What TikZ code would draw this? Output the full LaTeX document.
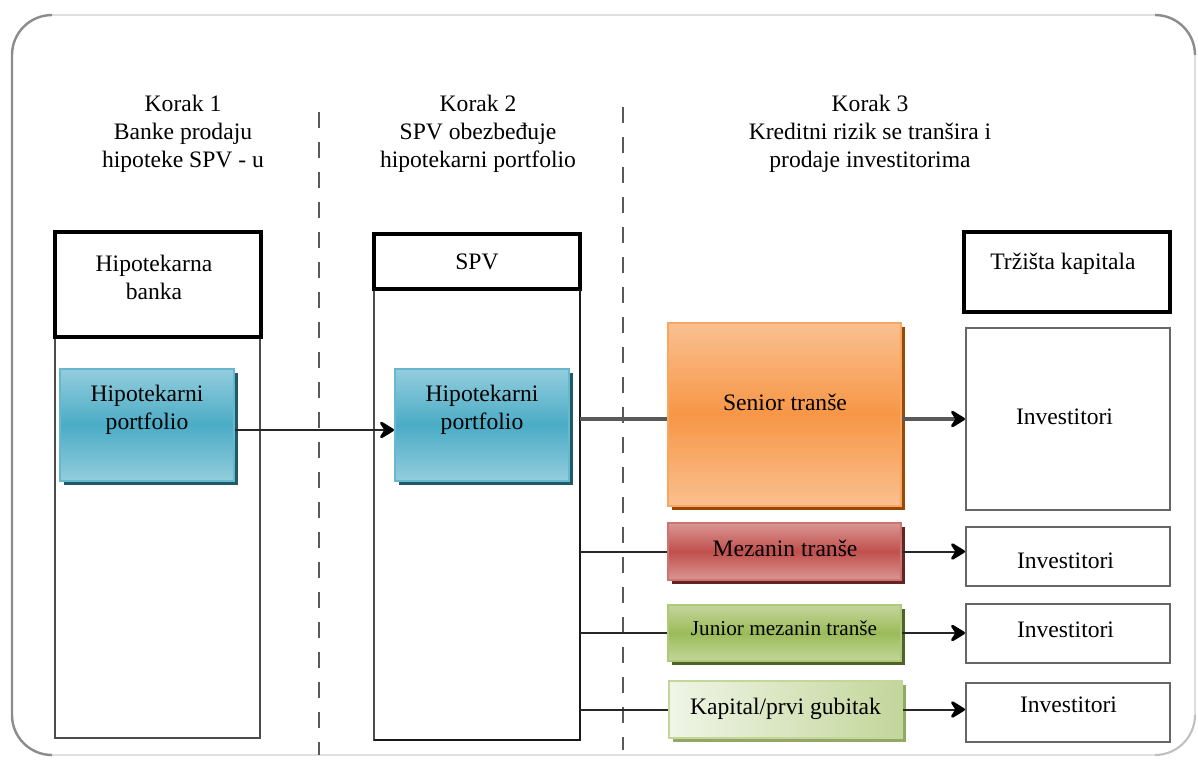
\documentclass[tikz,border=0pt]{standalone}
\usepackage{fontspec}
\setmainfont{Liberation Serif}
\usetikzlibrary{arrows.meta,shadows}

\definecolor{cyanlt}{HTML}{93CDDD}
\definecolor{cyanmd}{HTML}{4BACC6}
\definecolor{cyandk}{HTML}{215968}
\definecolor{orglt}{HTML}{FAC090}
\definecolor{orgmd}{HTML}{F79646}
\definecolor{orgdk}{HTML}{984807}
\definecolor{redlt}{HTML}{DA9694}
\definecolor{redmd}{HTML}{C0504D}
\definecolor{reddk}{HTML}{632523}
\definecolor{grnlt}{HTML}{C3D69B}
\definecolor{grnmd}{HTML}{9BBB59}
\definecolor{grndk}{HTML}{4F6228}
\definecolor{grnpale}{HTML}{F0F5E6}
\definecolor{grnshd}{HTML}{77933C}
\definecolor{framegray}{HTML}{8C8C8C}

\begin{document}
\begin{tikzpicture}[x=0.5pt,y=-0.5pt, % pixel grid of the original
    txt/.style={font=\fontsize{11.8}{14}\selectfont, align=center, inner sep=0pt},
    small/.style={font=\fontsize{10.6}{13}\selectfont},
    header/.style={draw=black, line width=2pt, fill=white, minimum width=103pt, inner sep=0pt, font=\fontsize{11.8}{14}\selectfont},
    column/.style={draw=black!70, line width=0.7pt},
    dropshade/.style={drop shadow={shadow xshift=2pt, shadow yshift=-2pt, fill=#1, opacity=1}},
    portbox/.style={draw=cyanmd!85!white, line width=1pt, top color=cyanlt, bottom color=cyanlt, middle color=cyanmd,
        minimum width=87pt, minimum height=56pt, dropshade=cyandk},
    tranche/.style={line width=1pt, minimum width=116.5pt, minimum height=28.5pt},
    senior/.style={draw=orgmd!85!white, top color=orglt, bottom color=orglt, middle color=orgmd, dropshade=orgdk},
    mezz/.style={draw=redmd!80!white, top color=redlt, bottom color=redlt, middle color=redmd, dropshade=reddk},
    junior/.style={draw=grnmd!80!white, top color=grnlt, bottom color=grnlt, middle color=grnmd, dropshade=grndk},
    equity/.style={draw=grnlt, left color=grnpale, right color=grnlt, dropshade=grnshd!80},
    invbox/.style={draw=black!60, line width=1pt, minimum width=102pt, minimum height=29.5pt},
    divider/.style={draw=black!65, line width=1pt, dash pattern=on 8pt off 7pt},
    busline/.style={draw=black!90, line width=1.1pt},
    link/.style={draw=black!85, line width=1pt},
    heavy/.style={draw=black!65, line width=1.6pt},
    tipped/.style={-{Stealth[length=9pt,width=11pt,inset=3.5pt,line width=1.5pt,round,color=black]}},
    arr/.style={link, tipped}
]
\useasboundingbox (0,0) rectangle (1198,761);

% Frame
\draw[draw=black!12, line width=0.8pt, rounded corners=20pt] (12,15) rectangle (1195,755);
\draw[draw=framegray, line width=1.2pt, rounded corners=20pt] (52,15) -- (12,15) -- (12,755) -- (52,755);
\draw[draw=framegray, line width=1.2pt, rounded corners=20pt] (1155,15) -- (1195,15) -- (1195,55);
\draw[draw=black!25, line width=1pt, rounded corners=20pt] (1195,715) -- (1195,755) -- (1155,755);

% Step dividers
\draw[divider] (319,112) -- (319,755);
\draw[divider] (623,107) -- (623,750);

% Step titles
\node[txt] (step1) at (183,134) {Korak 1\\Banke prodaju\\hipoteke SPV - u};
\node[txt] (step2) at (478,134) {Korak 2\\SPV obezbeđuje\\hipotekarni portfolio};
\node[txt] (step3) at (870,134) {Korak 3\\Kreditni rizik se tranšira i\\prodaje investitorima};

% Korak 1: bank
\draw[column] (55,300) rectangle (260,738);
\node[header, minimum height=52.5pt] (bank) at (157.5,284.5) {};
\node[txt] (bank-t) at (154,277) {Hipotekarna\\banka};
\node[portbox] (port1) at (147,425) {};
\node[txt] (port1-t) at (147,410) {Hipotekarni\\portfolio};

% Korak 2: SPV
\draw[column] (374,270) rectangle (580,740);
\node[header, minimum height=27.5pt] (spv) at (477,261.5) {SPV};
\node[portbox] (port2) at (482,425) {};
\node[txt] (port2-t) at (482,410) {Hipotekarni\\portfolio};
\coordinate (bus) at (580,289);
\coordinate (busend) at (374,740);
\draw[busline] (bus) |- (busend);

% Korak 3: tranches
\node[tranche, senior, minimum height=91.5pt] (senior) at (784.5,414.5) {};
\node[txt] (senior-t) at (785,402.5) {Senior tranše};
\node[tranche, mezz] (mezz) at (784.5,551.5) {};
\node[txt] (mezz-t) at (785,548) {Mezanin tranše};
\node[tranche, junior, minimum height=28pt] (junior) at (784.5,633) {};
\node[txt, small] (junior-t) at (784,628.5) {Junior mezanin tranše};
\node[tranche, equity] (equity) at (785.5,709.5) {};
\node[txt] (equity-t) at (785.5,708.5) {Kapital/prvi gubitak};

% Capital markets
\node[header, minimum height=40pt] (market) at (1067,272) {};
\node[txt] (market-t) at (1063,264) {Tržišta kapitala};
\node[invbox, minimum height=91pt] (inv1) at (1068,419) {};
\node[txt] (inv1-t) at (1064.5,417) {Investitori};
\node[invbox] (inv2) at (1068,556.5) {};
\node[txt] (inv2-t) at (1065.5,560.5) {Investitori};
\node[invbox] (inv3) at (1068,633.5) {};
\node[txt] (inv3-t) at (1065.5,629.5) {Investitori};
\node[invbox] (inv4) at (1068,712.5) {};
\node[txt] (inv4-t) at (1068.5,704.5) {Investitori};

% Connectors
\draw[arr, line width=0.6pt] ([yshift=-2.5pt]port1.east) -- ([yshift=-2.5pt]port2.west);
\draw[heavy] (bus |- inv1.west) -- (senior.west |- inv1.west);
\draw[heavy, tipped] (senior.east |- inv1.west) -- (inv1.west);
\foreach \t/\i in {mezz/inv2, junior/inv3, equity/inv4} {
    \draw[link] (bus |- \t.west) -- (\t.west);
    \draw[arr] (\t.east) -- (\t.east -| \i.west);
}
\end{tikzpicture}
\end{document}
